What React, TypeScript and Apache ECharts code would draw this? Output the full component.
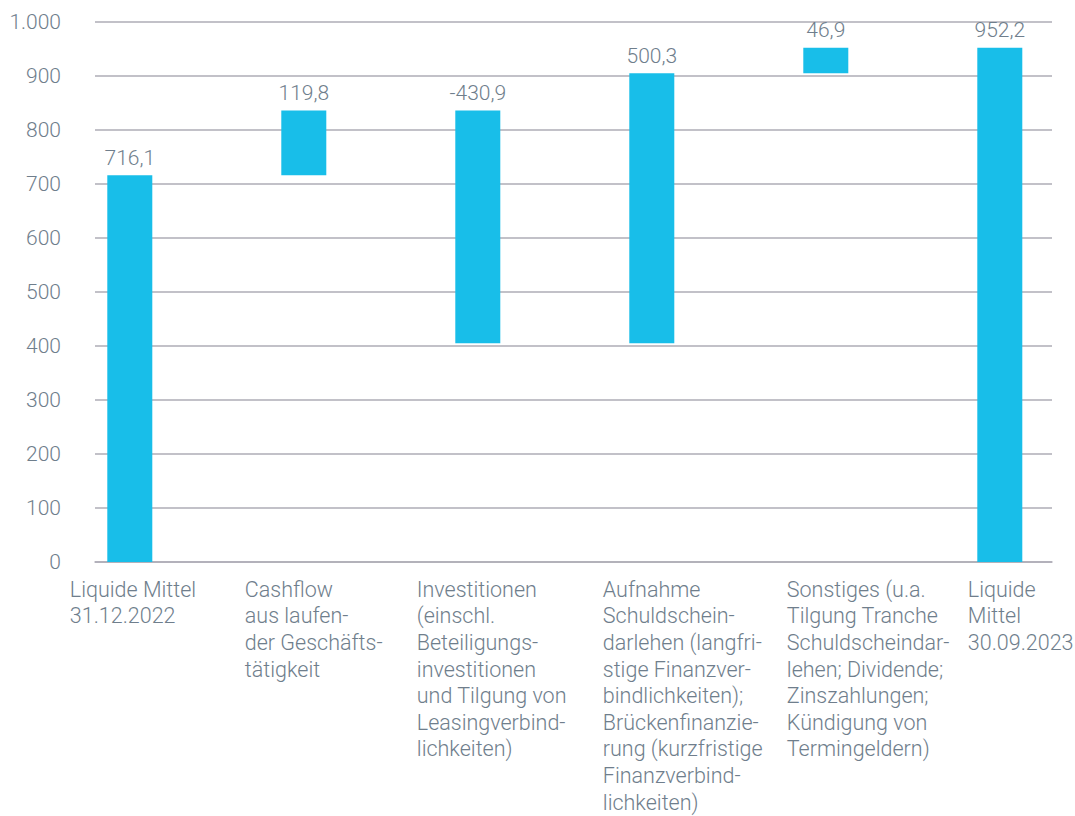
import React, { useEffect, useRef } from "react";
import * as echarts from "echarts";

const categories: string[][] = [
  ["Liquide Mittel", "31.12.2022"],
  ["Cashflow", "aus laufen-", "der Geschäfts-", "tätigkeit"],
  ["Investitionen", "(einschl.", "Beteiligungs-", "investitionen", "und Tilgung von", "Leasingverbind-", "lichkeiten)"],
  ["Aufnahme", "Schuldschein-", "darlehen (langfri-", "stige Finanzver-", "bindlichkeiten);", "Brückenfinanzie-", "rung (kurzfristige", "Finanzverbind-", "lichkeiten)"],
  ["Sonstiges (u.a.", "Tilgung Tranche", "Schuldscheindar-", "lehen; Dividende;", "Zinszahlungen;", "Kündigung von", "Termingeldern)"],
  ["Liquide", "Mittel", "30.09.2023"],
];
const changes = [716.1, 119.8, -430.9, 500.3, 46.9, 952.2];
const isTotal = [true, false, false, false, false, true];
const yMin = 0;
const yMax = 1000;
const yInterval = 100;

// label block shift (layout only): left edge of label relative to bar centre
const labelShift = [-60, -59, -61, -49, -39, -32];

const TEXT = "#6f7e8c";
const BAR = "#18bee9";
const GRID = "#aeacb6";
const FONT = "Roboto, 'Noto Sans', sans-serif";
const BAR_WIDTH = 45;

const fmtDe = (v: number, dec: number) => {
  const neg = v < 0;
  const s = Math.abs(v).toFixed(dec);
  const [ip, dp] = s.split(".");
  const ig = ip.replace(/\B(?=(\d{3})+(?!\d))/g, ".");
  return (neg ? "-" : "") + ig + (dp ? "," + dp : "");
};

const bases: number[] = [];
const heights: number[] = [];
{
  let running = 0;
  changes.forEach((c, i) => {
    if (isTotal[i]) {
      bases.push(0);
      heights.push(c);
      running = c;
    } else if (c >= 0) {
      bases.push(+running.toFixed(1));
      heights.push(c);
      running += c;
    } else {
      running += c;
      bases.push(+running.toFixed(1));
      heights.push(-c);
    }
  });
}

export default function App() {
  const ref = useRef<HTMLDivElement>(null);
  useEffect(() => {
    document.body.style.margin = "0";
    const chart = echarts.init(ref.current!, undefined, { renderer: "svg" });
    const rich: Record<string, any> = {};
    categories.forEach((_, i) => {
      rich["r" + i] = {
        align: "left",
        width: -2 * labelShift[i],
        fontSize: 21.5,
        lineHeight: 26.6,
        color: TEXT,
        fontFamily: FONT,
        fontWeight: 300,
      };
    });
    chart.setOption({
      animation: false,
      grid: {
        left: 95,
        right: 23,
        top: 22,
        bottom: 254,
        containLabel: false,
        outerBoundsMode: "none",
      },
      xAxis: {
        type: "value",
        min: -0.2,
        max: 5.3,
        interval: 0.1,
        splitLine: { show: false },
        axisTick: { show: false },
        axisLine: { show: true, lineStyle: { color: GRID, width: 1.5 } },
        axisLabel: {
          show: true,
          margin: 14,
          align: "center",
          verticalAlign: "top",
          rich,
          formatter: (v: number) => {
            const r = Math.round(v);
            if (Math.abs(v - r) > 1e-6 || r < 0 || r >= categories.length) return "";
            return categories[r].map((l) => `{r${r}|${l}}`).join("\n");
          },
        },
      },
      yAxis: {
        type: "value",
        min: yMin,
        max: yMax,
        interval: yInterval,
        axisLine: { show: false },
        axisTick: { show: false },
        splitLine: { show: true, lineStyle: { color: GRID, width: 1.5 } },
        axisLabel: {
          margin: 34,
          color: TEXT,
          fontSize: 21,
          fontFamily: FONT,
          fontWeight: 300,
          formatter: (v: number) => fmtDe(v, 0),
        },
      },
      series: [
        {
          type: "custom",
          encode: { x: 0, y: 1 },
          data: changes.map((c, i) => [i, bases[i], heights[i], c]),
          renderItem: (params: any, api: any) => {
            const i = api.value(0);
            const b = api.value(1);
            const h = api.value(2);
            const c = api.value(3);
            const p0 = api.coord([i, b]);
            const p1 = api.coord([i, b + h]);
            return {
              type: "group",
              children: [
                {
                  type: "rect",
                  shape: {
                    x: p0[0] - BAR_WIDTH / 2,
                    y: p1[1],
                    width: BAR_WIDTH,
                    height: p0[1] - p1[1],
                  },
                  style: { fill: BAR },
                },
                {
                  type: "text",
                  x: p0[0],
                  y: p1[1] - 7,
                  style: {
                    text: fmtDe(c, 1),
                    fill: TEXT,
                    fontSize: 21,
                    fontFamily: FONT,
                    fontWeight: 300,
                    align: "center",
                    verticalAlign: "bottom",
                  },
                },
              ],
            };
          },
        },
      ],
    });
    return () => chart.dispose();
  }, []);
  return <div ref={ref} style={{ width: 1075, height: 816 }} />;
}
